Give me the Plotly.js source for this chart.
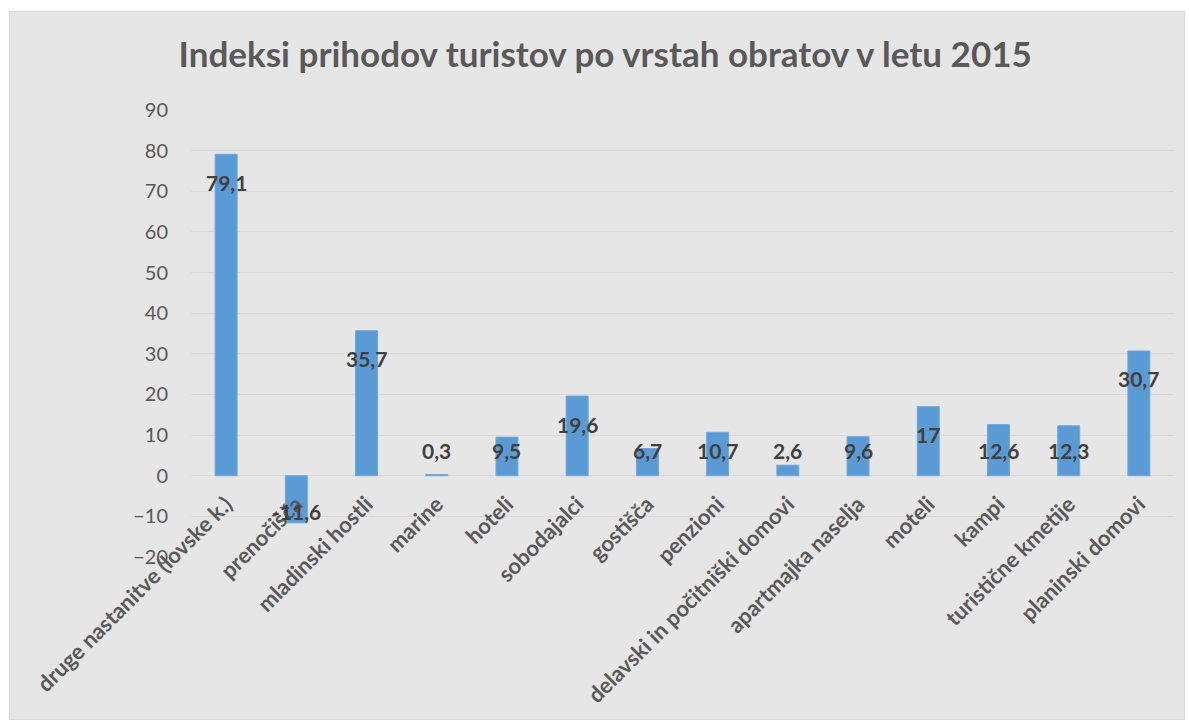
<!DOCTYPE html>
<html>
<head>
<meta charset="utf-8">
<script src="https://cdn.plot.ly/plotly-3.0.1.min.js"></script>
<style>
  html, body { margin: 0; padding: 0; background: #ffffff; }
  #frame { position: absolute; left: 9px; top: 11px; width: 1176px; height: 709px;
           box-sizing: border-box; border: 1px solid #d9d9d9; background: #e7e6e6; }
  #chart { width: 1174px; height: 707px; }
</style>
</head>
<body>
<div id="frame"><div id="chart"></div></div>
<script>
const titleText = "Indeksi prihodov turistov po vrstah obratov v letu 2015";
const categories = [
  "druge nastanitve (lovske k.)", "prenočišča", "mladinski hostli", "marine", "hoteli",
  "sobodajalci", "gostišča", "penzioni", "delavski in počitniški domovi",
  "apartmajka naselja", "moteli", "kampi", "turistične kmetije", "planinski domovi"
];
const values = [79.1, -11.6, 35.7, 0.3, 9.5, 19.6, 6.7, 10.7, 2.6, 9.6, 17, 12.6, 12.3, 30.7];
const yTicks = [-20, -10, 0, 10, 20, 30, 40, 50, 60, 70, 80, 90];
const yRange = [-20, 90];

const fmt = v => String(v).replace('.', ',');

const annotations = values.map((v, i) => {
  let y, shift;
  if (v < 0) { y = v; shift = 11; }
  else if (v >= 13) { y = v; shift = -28; }
  else { y = 0; shift = 25; }
  return {
    x: categories[i], y: y, xref: 'x', yref: 'y', yshift: shift,
    text: fmt(v), showarrow: false, xanchor: 'center', yanchor: 'middle',
    font: { family: 'Lato, "Open Sans", sans-serif', size: 21, color: '#404040', weight: 'bold' }
  };
});

const trace = {
  type: 'bar',
  x: categories,
  y: values,
  marker: { color: '#5b9bd5', line: { color: '#6fa8dc', width: 1 } },
  hoverinfo: 'x+y'
};

const layout = {
  width: 1174, height: 707,
  paper_bgcolor: '#e7e6e6', plot_bgcolor: '#e7e6e6',
  margin: { l: 181, r: 10, t: 98, b: 162 },
  separators: ',.',
  showlegend: false,
  bargap: 0.687,
  title: {
    text: '<b>' + titleText + '</b>',
    xref: 'container', x: 0.507, yref: 'container', y: 1 - 43 / 707,
    xanchor: 'center', yanchor: 'middle',
    font: { family: 'Lato, "Open Sans", sans-serif', size: 35, color: '#595959' }
  },
  xaxis: {
    type: 'category',
    anchor: 'free',
    position: (0 - yRange[0]) / (yRange[1] - yRange[0]),
    tickangle: -45,
    showgrid: false, showline: false, zeroline: false,
    ticks: 'outside', ticklen: 6, tickcolor: 'rgba(0,0,0,0)',
    tickfont: { family: 'Lato, "Open Sans", sans-serif', size: 22, color: '#595959', weight: 'bold' }
  },
  yaxis: {
    range: yRange,
    tickvals: yTicks,
    showgrid: true, gridcolor: '#d9d9d9', gridwidth: 1,
    zeroline: true, zerolinecolor: '#d9d9d9', zerolinewidth: 1,
    showline: false,
    ticks: 'outside', ticklen: 18, tickcolor: 'rgba(0,0,0,0)',
    tickfont: { family: 'Lato, "Open Sans", sans-serif', size: 20, color: '#595959' }
  },
  annotations: annotations
};

Plotly.newPlot('chart', [trace], layout, { displayModeBar: false, staticPlot: true });
</script>
</body>
</html>
